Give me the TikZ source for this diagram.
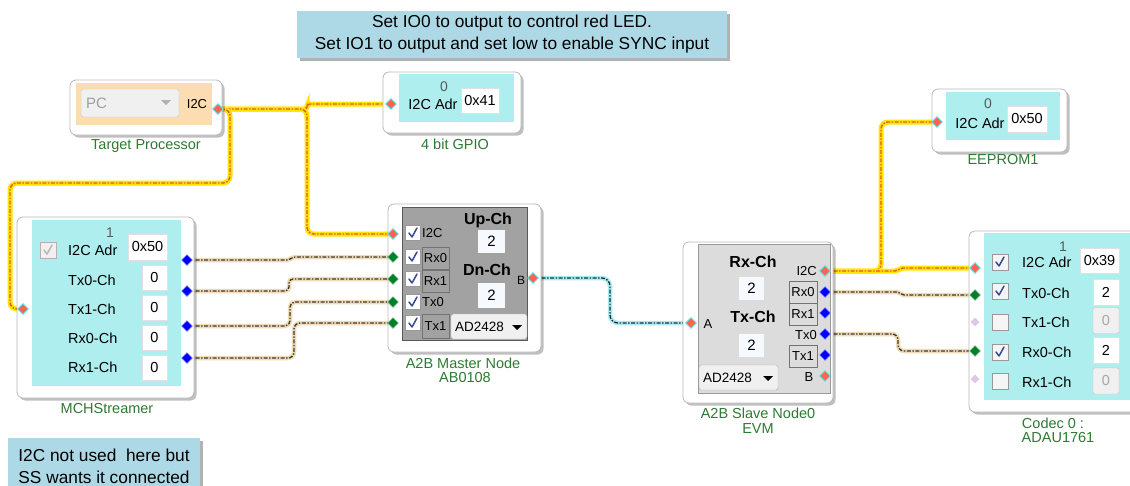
\documentclass[tikz,border=0pt]{standalone}
\usepackage{fontspec}
\setmainfont{Liberation Sans}
\usetikzlibrary{shapes.geometric,shadows}
\pgfdeclarelayer{back}
\pgfdeclarelayer{lines}
\pgfsetlayers{back,lines,main}
\definecolor{panelcyan}{RGB}{175,238,238}
\definecolor{peach}{RGB}{252,221,178}
\definecolor{notebg}{RGB}{173,216,230}
\definecolor{mgrey}{RGB}{162,162,162}
\definecolor{sgrey}{RGB}{220,220,220}
\definecolor{lblgreen}{RGB}{45,122,50}
\definecolor{portred}{RGB}{250,100,80}
\definecolor{portcyan}{RGB}{90,225,230}
\definecolor{portblue}{RGB}{0,0,255}
\definecolor{portgreen}{RGB}{0,128,40}
\definecolor{portlilac}{RGB}{222,200,232}
\definecolor{tickblue}{RGB}{55,75,150}
\definecolor{idxgrey}{RGB}{90,90,90}
\definecolor{i2cglowc}{RGB}{255,228,0}
\definecolor{i2cdash}{RGB}{235,85,40}
\definecolor{dataglow}{RGB}{240,220,180}
\definecolor{datadash}{RGB}{60,55,50}
\definecolor{a2bglow}{RGB}{170,235,240}
\definecolor{a2bdash}{RGB}{30,45,60}
\definecolor{oboxline}{RGB}{185,185,185}
\definecolor{ddfill}{RGB}{240,240,240}
\definecolor{fieldline}{RGB}{225,225,225}
\tikzset{
  sz/.style 2 args={minimum width=#1pt, minimum height=#2pt},
  obox/.style={draw=oboxline, fill=white, rounded corners=6pt, line width=0.8pt, inner sep=0pt,
    drop shadow={shadow xshift=2.5pt, shadow yshift=-2.5pt, opacity=0.25, fill=black}},
  cpanel/.style={fill=panelcyan, inner sep=0pt},
  note/.style={fill=notebg, inner sep=0pt,
    drop shadow={shadow xshift=3pt, shadow yshift=-3pt, opacity=0.3, fill=black}},
  txt/.style={inner sep=0pt, font=\fontsize{14.5}{17}\selectfont},
  stxt/.style={inner sep=0pt, font=\fontsize{13}{15}\selectfont},
  btxt/.style={inner sep=0pt, font=\fontsize{16}{18}\bfseries\selectfont},
  idx/.style={inner sep=0pt, text=idxgrey, font=\fontsize{14}{16}\selectfont},
  lbl/.style={inner sep=0pt, text=lblgreen, font=\fontsize{14.5}{17}\selectfont},
  field/.style={fill=white, draw=fieldline, inner sep=0pt, font=\fontsize{14.5}{17}\selectfont},
  dfield/.style={fill=ddfill, draw=gray!45, inner sep=0pt, text=gray!70, rounded corners=1.5pt, font=\fontsize{14.5}{17}\selectfont},
  mfield/.style={fill={rgb,255:red,246;green,249;blue,253}, inner sep=0pt, font=\fontsize{15}{17}\selectfont},
  ddbox/.style={fill=ddfill, draw=gray!60, rounded corners=2.5pt, inner sep=0pt},
  subbox/.style={draw=gray!90!black, line width=0.8pt, inner sep=0pt, sz={27}{22}, font=\fontsize{13}{15}\selectfont},
  cbox/.style={draw=gray!80, fill=gray!8, inner sep=0pt, minimum size=15pt},
  cboxon/.style={cbox, path picture={\draw[tickblue, line width=1.5pt, line cap=round, line join=round]
      ([xshift=-4pt]path picture bounding box.center) -- ++(3pt,-4pt) -- ++(5pt,9pt);}},
  cboxgrey/.style={draw=gray!60, fill=gray!12, inner sep=0pt, minimum size=16pt,
    path picture={\draw[gray!55, line width=1.5pt, line cap=round, line join=round]
      ([xshift=-4pt]path picture bounding box.center) -- ++(3pt,-4pt) -- ++(5pt,9pt);}},
  port/.style={diamond, inner sep=0pt, minimum width=11pt, minimum height=11pt, line width=0.9pt},
  pred/.style={port, fill=portred, draw=portcyan},
  pblue/.style={port, fill=portblue, draw=portblue!45!white, line width=0.5pt},
  pgreen/.style={port, fill=portgreen, draw=portgreen!45!white, line width=0.5pt},
  plilac/.style={port, fill=portlilac, draw=none, minimum width=9pt, minimum height=9pt},
  i2c/.style={draw=i2cdash, line width=1.4pt, dash pattern=on 4pt off 1.5pt on 1.5pt off 1.5pt,
    preaction={draw=i2cglowc, line width=5pt, solid}},
  data/.style={draw=datadash, line width=1.3pt, dash pattern=on 4pt off 1.5pt on 1.5pt off 1.5pt,
    preaction={draw=dataglow, line width=4.5pt, solid}},
  a2b/.style={draw=a2bdash, line width=1.3pt, dash pattern=on 4pt off 1.5pt on 1.5pt off 1.5pt,
    preaction={draw=a2bglow, line width=4.5pt, solid}},
}
\begin{document}
\begin{tikzpicture}[x=1pt,y=-1pt]
\useasboundingbox (0,0) rectangle (1130,485);
\begin{pgfonlayer}{back}
\fill[white] (0,0) rectangle (1130,485);
\end{pgfonlayer}

% ---------- notes
\node[note, sz={430}{47}, align=center, font=\fontsize{17.3}{22}\selectfont] (note1) at (512,34.5)
  {Set IO0 to output to control red LED.\\Set IO1 to output and set low to enable SYNC input};
\node[note, sz={192}{52}] (note2) at (104,464) {};
\node[inner sep=0pt, align=center, font=\fontsize{17.3}{22}\selectfont] (note2t) at (104,466)
  {I2C not used\ \ here but\\SS wants it connected};

% ---------- Target Processor
\node[obox, sz={152}{55}] (tp) at (146,107.5) {};
\node[fill=peach, inner sep=0pt, sz={136}{42}] (tpin) at (144,103.5) {};
\node[ddbox, draw=gray!45, sz={98}{28}] (tpdd) at (130,103) {};
\node[inner sep=0pt, text=gray!75, anchor=west, font=\fontsize{15}{17}\selectfont] (tppc) at (86,103) {PC};
\fill[gray!60] (161,100) -- (171,100) -- (166,105) -- cycle;
\node[stxt] (tpi2c) at (197,104) {I2C};
\node[pred] (tpP) at (218,109) {};
\node[lbl] (tplbl) at (146,146) {Target Processor};

% ---------- 4 bit GPIO
\node[obox, sz={138}{61}] (gpio) at (452,102.5) {};
\node[cpanel, sz={115}{48}] (gpioin) at (456.5,98) {};
\node[idx] (gpioidx) at (444,87) {0};
\node[txt] (gpioadr) at (433,104) {I2C Adr};
\node[field, sz={38}{25}] (gpiof) at (480,100.5) {0x41};
\node[pred] (gpioP) at (391,104) {};
\node[lbl] (gpiolbl) at (455,144) {4 bit GPIO};

% ---------- MCHStreamer
\node[obox, sz={177}{181}] (mch) at (105.5,307.5) {};
\node[cpanel, sz={149}{166}] (mchin) at (106.5,303) {};
\node[idx] (mchidx) at (110,233) {1};
\node[cboxgrey] (mchcb) at (48,250) {};
\node[txt, anchor=west] (mchadr) at (68,250) {I2C Adr};
\node[field, sz={39}{26}] (mchfa) at (147.5,247) {0x50};
\node[txt, anchor=west] (mchl1) at (68,280) {Tx0-Ch};
\node[txt, anchor=west] (mchl2) at (68,309) {Tx1-Ch};
\node[txt, anchor=west] (mchl3) at (68,338) {Rx0-Ch};
\node[txt, anchor=west] (mchl4) at (68,367) {Rx1-Ch};
\node[field, sz={25}{25}] (mchf1) at (154.5,277.5) {0};
\node[field, sz={25}{25}] (mchf2) at (154.5,307.5) {0};
\node[field, sz={25}{25}] (mchf3) at (154.5,338) {0};
\node[field, sz={25}{25}] (mchf4) at (154.5,368) {0};
\node[pred] (mchI2C) at (23,309) {};
\node[pblue] (mchP1) at (187,260) {};
\node[pblue] (mchP2) at (187,291) {};
\node[pblue] (mchP3) at (187,326) {};
\node[pblue] (mchP4) at (187,358) {};
\node[lbl] (mchlbl) at (107,409) {MCHStreamer};

% ---------- A2B Master Node
\node[obox, sz={153}{148}] (mst) at (464.5,278) {};
\node[fill=mgrey, draw=gray!70!black, inner sep=0pt, sz={125}{133}] (mstin) at (464.5,273.5) {};
\node[cboxon, fill=white] (mcb1) at (413,233) {};
\node[cboxon, fill=white] (mcb2) at (413,257) {};
\node[cboxon, fill=white] (mcb3) at (413,279) {};
\node[cboxon, fill=white] (mcb4) at (413,302) {};
\node[cboxon, fill=white] (mcb5) at (413,323) {};
\node[stxt, anchor=west] (mi2c) at (422,233) {I2C};
\node[subbox] (mrx0) at (435.5,258) {Rx0};
\node[subbox] (mrx1) at (435.5,281) {Rx1};
\node[stxt, anchor=west] (mtx0) at (422,302) {Tx0};
\node[subbox, sz={27}{24}] (mtx1) at (435.5,326) {Tx1};
\node[btxt] (mup) at (488,220) {Up-Ch};
\node[mfield, sz={27}{23}] (mupf) at (491.5,241.5) {2};
\node[btxt] (mdn) at (487,270) {Dn-Ch};
\node[stxt, font=\fontsize{12}{14}\selectfont] (mB) at (521,280) {B};
\node[mfield, sz={27}{25}] (mdnf) at (491.5,295.5) {2};
\node[ddbox, sz={76}{25}] (mdd) at (489,326.5) {};
\node[inner sep=0pt, anchor=west, font=\fontsize{13.5}{15}\selectfont] (mddt) at (455,327) {AD2428};
\fill[black] (512,325) -- (522,325) -- (517,330) -- cycle;
\node[pred] (mI2C) at (393,234) {};
\node[pgreen] (mRx0) at (393,257) {};
\node[pgreen] (mRx1) at (393,279) {};
\node[pgreen] (mTx0) at (393,302) {};
\node[pgreen] (mTx1) at (393,323) {};
\node[pred] (mBP) at (533,278) {};
\node[lbl] (mlbl1) at (463,363) {A2B Master Node};
\node[lbl] (mlbl2) at (465,378) {AB0108};

% ---------- A2B Slave Node
\node[obox, sz={150}{161}] (slv) at (758,322.5) {};
\node[fill=sgrey, draw=gray!80, inner sep=0pt, sz={132}{149}] (slvin) at (764,318.5) {};
\node[btxt] (srx) at (753,262) {Rx-Ch};
\node[mfield, sz={25}{23}] (srxf) at (751.5,288.5) {2};
\node[btxt] (stx) at (753,317) {Tx-Ch};
\node[mfield, sz={25}{23}] (stxf) at (751.5,345) {2};
\node[stxt] (sA) at (708,324) {A};
\node[stxt, anchor=east] (si2c) at (817,271) {I2C};
\node[subbox, sz={28}{22}] (srx0) at (803,292) {Rx0};
\node[subbox, sz={28}{22}] (srx1) at (803,314) {Rx1};
\node[stxt, anchor=east] (stx0) at (817,335) {Tx0};
\node[subbox, sz={28}{22}] (stx1) at (803,356.5) {Tx1};
\node[stxt] (sB) at (809,377) {B};
\node[ddbox, sz={79}{25}] (sdd) at (738.5,377.5) {};
\node[inner sep=0pt, anchor=west, font=\fontsize{13.5}{15}\selectfont] (sddt) at (703,378) {AD2428};
\fill[black] (763,376) -- (773,376) -- (768,381) -- cycle;
\node[pred] (sAP) at (691,323) {};
\node[pred] (sI2C) at (825,271) {};
\node[pblue] (sRx0) at (825,292) {};
\node[pblue] (sRx1) at (825,313) {};
\node[pblue] (sTx0) at (825,334) {};
\node[pblue] (sTx1) at (825,355) {};
\node[pred] (sBP) at (825,376) {};
\node[lbl] (slbl1) at (758,413) {A2B Slave Node0};
\node[lbl] (slbl2) at (758,429) {EVM};

% ---------- Codec
\node[obox, sz={167}{181}] (cod) at (1052.5,321.5) {};
\node[cpanel, sz={152}{167}] (codin) at (1060,316.5) {};
\node[idx] (codidx) at (1063,247) {1};
\node[cboxon, minimum size=16pt] (ccb1) at (1000,262) {};
\node[cboxon, minimum size=16pt] (ccb2) at (1000,291) {};
\node[cbox, minimum size=16pt] (ccb3) at (1000,322) {};
\node[cboxon, minimum size=16pt] (ccb4) at (1000,352) {};
\node[cbox, minimum size=16pt] (ccb5) at (1000,381) {};
\node[txt, anchor=west] (cl1) at (1022,262) {I2C Adr};
\node[txt, anchor=west] (cl2) at (1022,293) {Tx0-Ch};
\node[txt, anchor=west] (cl3) at (1022,322) {Tx1-Ch};
\node[txt, anchor=west] (cl4) at (1022,352) {Rx0-Ch};
\node[txt, anchor=west] (cl5) at (1022,382) {Rx1-Ch};
\node[field, sz={39}{25}] (cfa) at (1099.5,260.5) {0x39};
\node[field, sz={26}{26}] (cf1) at (1106,292) {2};
\node[dfield, sz={26}{26}] (cf2) at (1106,320.5) {0};
\node[field, sz={26}{26}] (cf3) at (1106,350.5) {2};
\node[dfield, sz={26}{26}] (cf4) at (1106,381) {0};
\node[pred] (cI2C) at (975,268) {};
\node[pgreen] (cTx0) at (975,295) {};
\node[plilac] (cTx1) at (975,322) {};
\node[pgreen] (cRx0) at (975,351) {};
\node[plilac] (cRx1) at (975,379) {};
\node[lbl] (clbl1) at (1053,423) {Codec 0 :};
\node[lbl] (clbl2) at (1058,438) {ADAU1761};

% ---------- EEPROM1
\node[obox, sz={135}{63}] (eep) at (999.5,120.5) {};
\node[cpanel, sz={114}{48}] (eepin) at (1003,116) {};
\node[idx] (eepidx) at (988,104) {0};
\node[txt] (eepadr) at (980,123) {I2C Adr};
\node[field, sz={40}{26}] (eepf) at (1027,119) {0x50};
\node[pred] (eepP) at (937,122) {};
\node[lbl] (eeplbl) at (1003,160) {EEPROM1};

% ---------- connectors
\begin{pgfonlayer}{lines}
\draw[i2c, rounded corners=3pt] (tpP.center) -- (307,109) -- (307,104) -- (gpioP.center);
\draw[i2c, rounded corners=7pt] (tpP.center) -- (307,109) -- (307,234) -- (mI2C.center);
\draw[i2c, rounded corners=7pt] (tpP.center) -- (230,109) -- (230,183) -- (10,183) -- (10,309) -- (mchI2C.center);
\draw[i2c, rounded corners=7pt] (sI2C.center) -- (881,271) -- (881,122) -- (eepP.center);
\draw[i2c, rounded corners=2pt] (sI2C.center) -- (897,271) -- (901,268) -- (cI2C.center);
\draw[data, rounded corners=2pt] (mchP1.center) -- (289,260) -- (293,257) -- (mRx0.center);
\draw[data, rounded corners=4pt] (mchP2.center) -- (289,291) -- (289,279) -- (mRx1.center);
\draw[data, rounded corners=5pt] (mchP3.center) -- (290,326) -- (290,302) -- (mTx0.center);
\draw[data, rounded corners=6pt] (mchP4.center) -- (294,358) -- (294,323) -- (mTx1.center);
\draw[a2b, rounded corners=8pt] (mBP.center) -- (610,278) -- (610,323) -- (sAP.center);
\draw[data, rounded corners=2pt] (sRx0.center) -- (899,292) -- (902,295) -- (cTx0.center);
\draw[data, rounded corners=6pt] (sTx0.center) -- (898,334) -- (898,351) -- (cRx0.center);
\end{pgfonlayer}
\end{tikzpicture}
\end{document}
